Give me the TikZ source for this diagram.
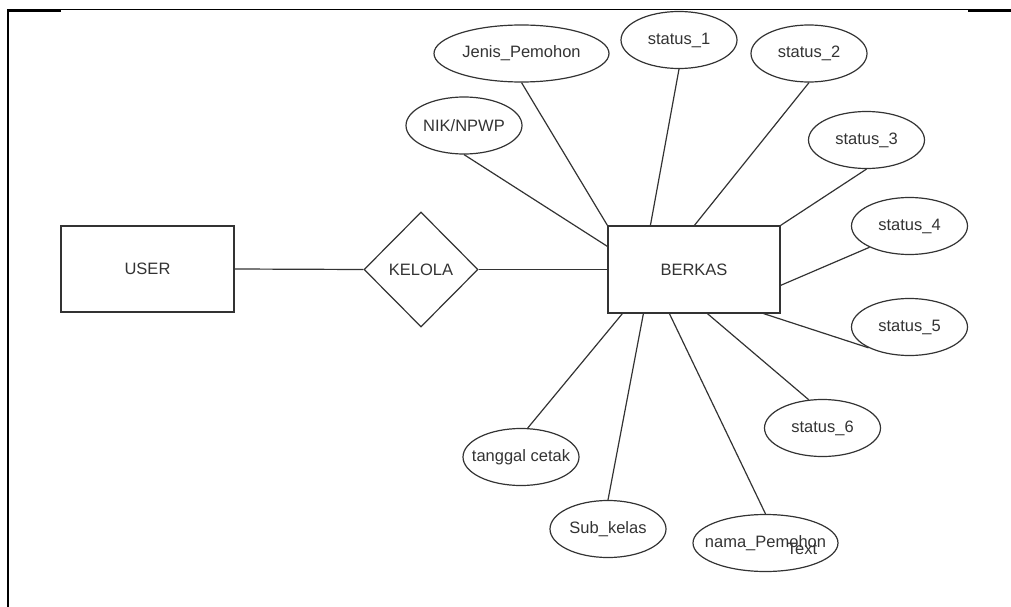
\documentclass[tikz,border=0pt]{standalone}
\usepackage{fontspec}
\setmainfont{Liberation Sans}
\usetikzlibrary{shapes.geometric}
\definecolor{ink}{HTML}{333333}
\newcommand{\tight}[1]{\makebox[0pt]{#1}}
\tikzset{
  every node/.style={text=ink, font=\fontsize{16.5}{18}\selectfont},
  link/.style={draw=ink, line width=1.2pt},
  entity/.style={rectangle, draw=ink, line width=1.2pt, inner sep=0pt},
  relation/.style={diamond, draw=ink, line width=1.2pt, inner sep=0pt,
    minimum width=114pt, minimum height=115pt},
  attr/.style={ellipse, draw=ink, line width=1.2pt, inner sep=0pt,
    minimum width=116pt, minimum height=57pt},
}
\begin{document}
\begin{tikzpicture}[x=1pt, y=-1pt]
\useasboundingbox (0,0) rectangle (1011,607);

% page frame
\draw[black, line width=1pt] (7,9.5) -- (1011,9.5);
\draw[black, line width=2.2pt] (7,10.6) -- (61,10.6);
\draw[black, line width=2.2pt] (968,10.6) -- (1011,10.6);
\draw[black, line width=2pt] (7.5,9.5) -- (7.5,607);

% entities and relationship
\node[entity, minimum width=173pt, minimum height=86pt] (user) at (147.5,269) {USER};
\node[relation] (kelola) at (421,269.5) {KELOLA};
\node[entity, minimum width=172pt, minimum height=87pt] (berkas) at (694,269.5) {BERKAS};

% attributes
\node[attr] (nik) at (464,125.5) {\tight{NIK/NPWP}};
\node[attr, minimum width=175pt] (jenis) at (521.5,53.5) {\tight{Jenis\_Pemohon}};
\node[attr] (s1) at (679,40) {\tight{status\_1}};
\node[attr] (s2) at (809,53.5) {\tight{status\_2}};
\node[attr] (s3) at (866.5,140) {\tight{status\_3}};
\node[attr] (s4) at (909.5,226) {\tight{status\_4}};
\node[attr] (s5) at (909.5,327) {\tight{status\_5}};
\node[attr] (s6) at (822.5,428) {\tight{status\_6}};
\node[attr] (tgl) at (521,457) {\tight{tanggal cetak}};
\node[attr] (sub) at (608,529) {\tight{Sub\_kelas}};
\node[attr, minimum width=145pt] (nama) at (765.5,543) {\tight{nama\_Pemohon}};
\node (txt) at (802,549) {Text};

% connectors
\draw[link] (user.east) -- (kelola.west);
\draw[link] (kelola.east) -- (berkas.west);
\draw[link] (nik.south) -- ([yshift=-21pt]berkas.north west);
\draw[link] (jenis.south) -- (berkas.north west);
\draw[link] (s1.south) -- ([xshift=43pt]berkas.north west);
\draw[link] (s2.south) -- ([xshift=87pt]berkas.north west);
\draw[link] (s3.south) -- (berkas.north east);
\draw[link] (s4.208) -- ([yshift=-60pt]berkas.north east);
\draw[link] (s5.207) -- ([xshift=-17pt]berkas.south east);
\draw[link] (s6.116) -- ([xshift=100pt]berkas.south west);
\draw[link] (nama.north) -- ([xshift=62pt]berkas.south west);
\draw[link] (sub.north) -- ([xshift=36pt]berkas.south west);
\draw[link] (tgl.77) -- ([xshift=15pt]berkas.south west);
\end{tikzpicture}
\end{document}
